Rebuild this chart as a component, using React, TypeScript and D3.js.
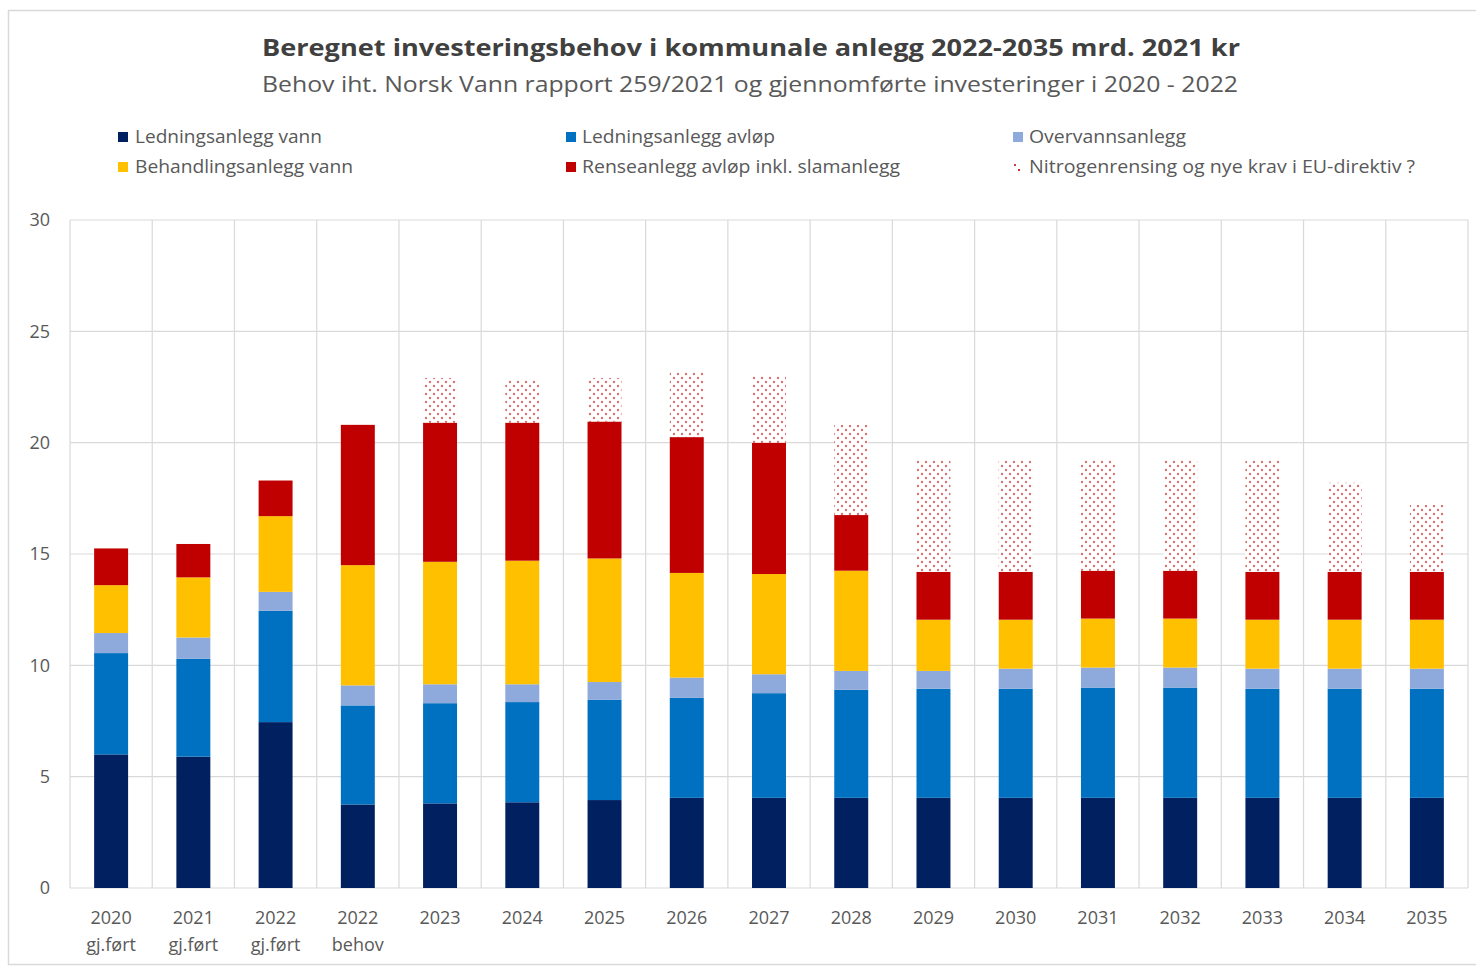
import React from "react";
import * as d3 from "d3";

const categories = ["2020|gj.ført", "2021|gj.ført", "2022|gj.ført", "2022|behov", "2023", "2024", "2025", "2026", "2027", "2028", "2029", "2030", "2031", "2032", "2033", "2034", "2035"];
const ledningVann = [6.0, 5.9, 7.45, 3.75, 3.8, 3.85, 3.95, 4.05, 4.05, 4.05, 4.05, 4.05, 4.05, 4.05, 4.05, 4.05, 4.05];
const ledningAvlop = [4.55, 4.4, 5.0, 4.45, 4.5, 4.5, 4.5, 4.5, 4.7, 4.85, 4.9, 4.9, 4.95, 4.95, 4.9, 4.9, 4.9];
const overvann = [0.9, 0.95, 0.85, 0.9, 0.85, 0.8, 0.8, 0.9, 0.85, 0.85, 0.8, 0.9, 0.9, 0.9, 0.9, 0.9, 0.9];
const behandlingVann = [2.15, 2.7, 3.4, 5.4, 5.5, 5.55, 5.55, 4.7, 4.5, 4.5, 2.3, 2.2, 2.2, 2.2, 2.2, 2.2, 2.2];
const renseanlegg = [1.65, 1.5, 1.6, 6.3, 6.25, 6.2, 6.15, 6.1, 5.9, 2.5, 2.15, 2.15, 2.15, 2.15, 2.15, 2.15, 2.15];
const nitrogen = [0, 0, 0, 0, 2.0, 1.95, 1.95, 2.95, 3.0, 4.05, 5.0, 5.0, 5.0, 5.0, 5.0, 4.0, 3.0];
const yTicks = [0, 5, 10, 15, 20, 25, 30];

const seriesNames = ["Ledningsanlegg vann", "Ledningsanlegg avløp", "Overvannsanlegg", "Behandlingsanlegg vann", "Renseanlegg avløp inkl. slamanlegg", "Nitrogenrensing og nye krav i EU-direktiv ?"];
const seriesColors = ["#002060", "#0070C0", "#8EA9DB", "#FFC000", "#C00000", "url(#dots)"];
const seriesData = [ledningVann, ledningAvlop, overvann, behandlingVann, renseanlegg, nitrogen];

export default function App() {
  const W = 1476, H = 971;
  const left = 70, right = 1468, top = 220, bottom = 888;
  const x = d3.scaleBand<string>().domain(categories).range([left, right]).paddingInner(0.587).paddingOuter(0.2935);
  const y = d3.scaleLinear().domain([0, 30]).range([bottom, top]);
  const step = x.step();
  const rows = categories.map((c, i) => {
    const o: any = { cat: c };
    seriesNames.forEach((n, k) => (o[n] = seriesData[k][i]));
    return o;
  });
  const stacked = d3.stack<any>().keys(seriesNames)(rows);
  const font = "'Open Sans', 'Noto Sans', sans-serif";
  const textCol = "#595959";

  const legendPos = [
    [118, 137, 135, 187],
    [566, 137, 582, 193],
    [1013, 137, 1029, 157],
    [118, 167, 135, 218],
    [566, 167, 582, 318],
    [1013, 167, 1029, 386],
  ];

  return (
    <svg width={W} height={H} style={{ position: "absolute", left: 0, top: 0, background: "#fff" }} fontFamily={font}>
      <defs>
        <pattern id="dots" width={8} height={8} patternUnits="userSpaceOnUse">
          <rect width={8} height={8} fill="#fff" />
          <circle cx={2} cy={2} r={1.2} fill="#C84040" opacity={0.75} />
          <circle cx={6} cy={6} r={1.2} fill="#C84040" opacity={0.75} />
        </pattern>
      </defs>
      <rect x={8.5} y={10.5} width={W + 10} height={954} fill="#fff" stroke="#D9D9D9" strokeWidth={1.5} />
      <text x={751} y={56} textAnchor="middle" fontSize={24} fontWeight="bold" fill="#404040" textLength={978} lengthAdjust="spacingAndGlyphs">
        Beregnet investeringsbehov i kommunale anlegg 2022-2035 mrd. 2021 kr
      </text>
      <text x={750} y={92} textAnchor="middle" fontSize={22} fill={textCol} textLength={976} lengthAdjust="spacingAndGlyphs">
        Behov iht. Norsk Vann rapport 259/2021 og gjennomførte investeringer i 2020 - 2022
      </text>
      {seriesNames.map((n, k) => {
        const [mx, my, tx, tw] = legendPos[k];
        return (
          <g key={n}>
            {k < 5 ? (
              <rect x={mx} y={my - 5} width={10} height={10} fill={seriesColors[k]} />
            ) : (
              <g fill="#C00000">
                <circle cx={mx + 2} cy={my - 2} r={1} />
                <circle cx={mx + 6} cy={my + 3} r={1.1} />
              </g>
            )}
            <text x={tx} y={my + 6} fontSize={18} fill={textCol} textLength={tw} lengthAdjust="spacingAndGlyphs">
              {n}
            </text>
          </g>
        );
      })}
      {yTicks.map((t) => (
        <g key={t}>
          <line x1={left} x2={right} y1={y(t)} y2={y(t)} stroke="#D9D9D9" strokeWidth={1.2} />
          <text x={50} y={y(t)} dy="0.35em" textAnchor="end" fontSize={18} fill={textCol}>
            {t}
          </text>
        </g>
      ))}
      {d3.range(categories.length + 1).map((i) => (
        <line key={i} x1={left + i * step} x2={left + i * step} y1={top} y2={bottom} stroke="#D9D9D9" strokeWidth={1.2} />
      ))}
      {stacked.map((s, k) => (
        <g key={s.key} fill={seriesColors[k]}>
          {s.map((d, i) =>
            d[1] - d[0] > 0 ? (
              <rect key={i} x={x(categories[i])} y={y(d[1])} width={x.bandwidth()} height={y(d[0]) - y(d[1])} />
            ) : null
          )}
        </g>
      ))}
      {categories.map((c) => {
        const [a, b] = c.split("|");
        const cx = (x(c) as number) + x.bandwidth() / 2;
        return (
          <g key={c}>
            <text x={cx} y={918} dy="0.35em" textAnchor="middle" fontSize={18} fill={textCol}>
              {a}
            </text>
            {b && (
              <text x={cx} y={945} dy="0.35em" textAnchor="middle" fontSize={18} fill={textCol}>
                {b}
              </text>
            )}
          </g>
        );
      })}
    </svg>
  );
}
